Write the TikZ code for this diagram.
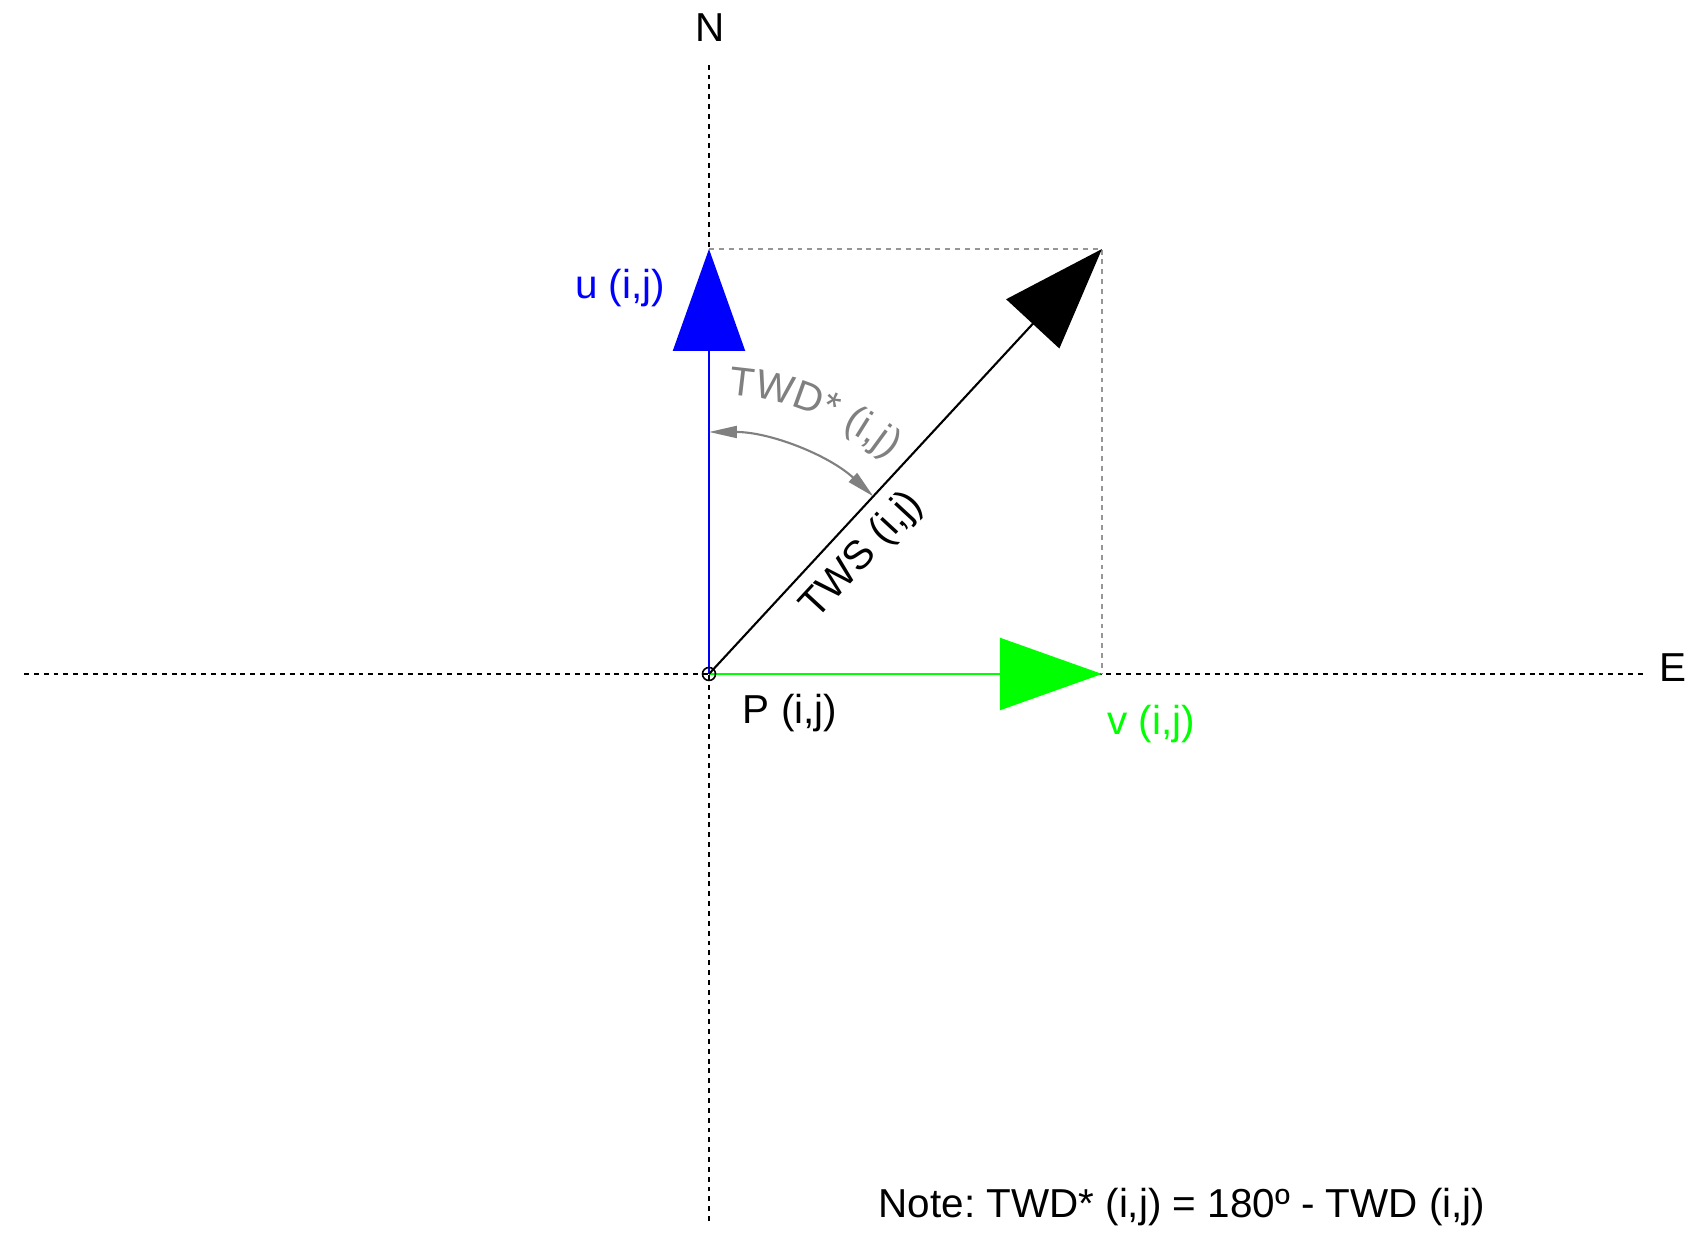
\documentclass[tikz,border=0pt]{standalone}
\usepackage{fontspec}
\setmainfont{Liberation Sans}
\usetikzlibrary{arrows.meta,positioning,decorations.text}
\frenchspacing

\definecolor{ublue}{RGB}{0,0,255}
\definecolor{vgreen}{RGB}{0,255,0}
\definecolor{twdgray}{RGB}{128,128,128}
\definecolor{boxgray}{RGB}{150,150,150}

\newcommand{\labfont}{\fontsize{11.5}{13.8}\selectfont}

\begin{document}
\begin{tikzpicture}[
  x=1cm, y=1cm,
  font=\labfont,
  axis/.style={draw=black, line width=0.45pt, dash pattern=on 1.4pt off 1.4pt},
  proj/.style={draw=boxgray, line width=0.45pt, dash pattern=on 1.4pt off 1.4pt},
  vec/.style={line width=0.6pt, -{Triangle[length=10.2mm, width=7.2mm]}},
  ang/.style={draw=twdgray, line width=0.6pt,
              {Triangle[length=2.8mm, width=1.2mm]}-{Triangle[length=2.8mm, width=1.2mm]}},
  lab/.style={inner sep=1pt}
]
\useasboundingbox (-7.09,-5.65) rectangle (9.93,6.74);

% ---------------- points ----------------
\coordinate (P) at (0,0);
\coordinate (uTip) at (0,4.25);
\coordinate (vTip) at (3.93,0);
\coordinate (wTip) at (3.93,4.25);
\coordinate (nEnd) at (0,6.09);
\coordinate (sEnd) at (0,-5.47);
\coordinate (wEnd) at (-6.85,0);
\coordinate (eEnd) at (9.36,0);

% ---------------- axes ----------------
\draw[axis] (wEnd) -- (eEnd);
\draw[axis] (sEnd) -- (nEnd);
\node[lab] (north) at (0.01,6.46) {N};
\node[lab] (east) at (9.64,0.06) {E};

% projection box
\draw[proj] (uTip) -- (wTip) -- (vTip);

% ---------------- vectors ----------------
\draw[vec, color=ublue] (P) -- (uTip);
\draw[vec, color=vgreen] (P) -- (vTip);
\draw[vec, color=black] (P) -- node[lab, sloped, below=0.9mm, pos=0.33] (tws) {TWS (i,j)} (wTip);

% angle TWD*
\coordinate (twdA) at (90:2.42);
\draw[ang] (twdA) arc[start angle=90, end angle=47.2, radius=2.42];
\path[decorate, decoration={text along path, text align=center, text color=twdgray,
      text={|\labfont|TWD* (i,j)}}]
  (88:2.8) arc[start angle=88, end angle=48, radius=2.8];

% point P
\draw[line width=0.45pt] (P) circle[radius=0.065];

% ---------------- labels ----------------
\node[lab] (plab) at (0.81,-0.395) {P (i,j)};
\node[lab, text=ublue] (ulab) at (-0.89,3.86) {u (i,j)};
\node[lab, text=vgreen] (vlab) at (4.42,-0.50) {v (i,j)};
\node[lab] (note) at (4.73,-5.33) {Note: TWD* (i,j) = 180º - TWD (i,j)};

\end{tikzpicture}
\end{document}
